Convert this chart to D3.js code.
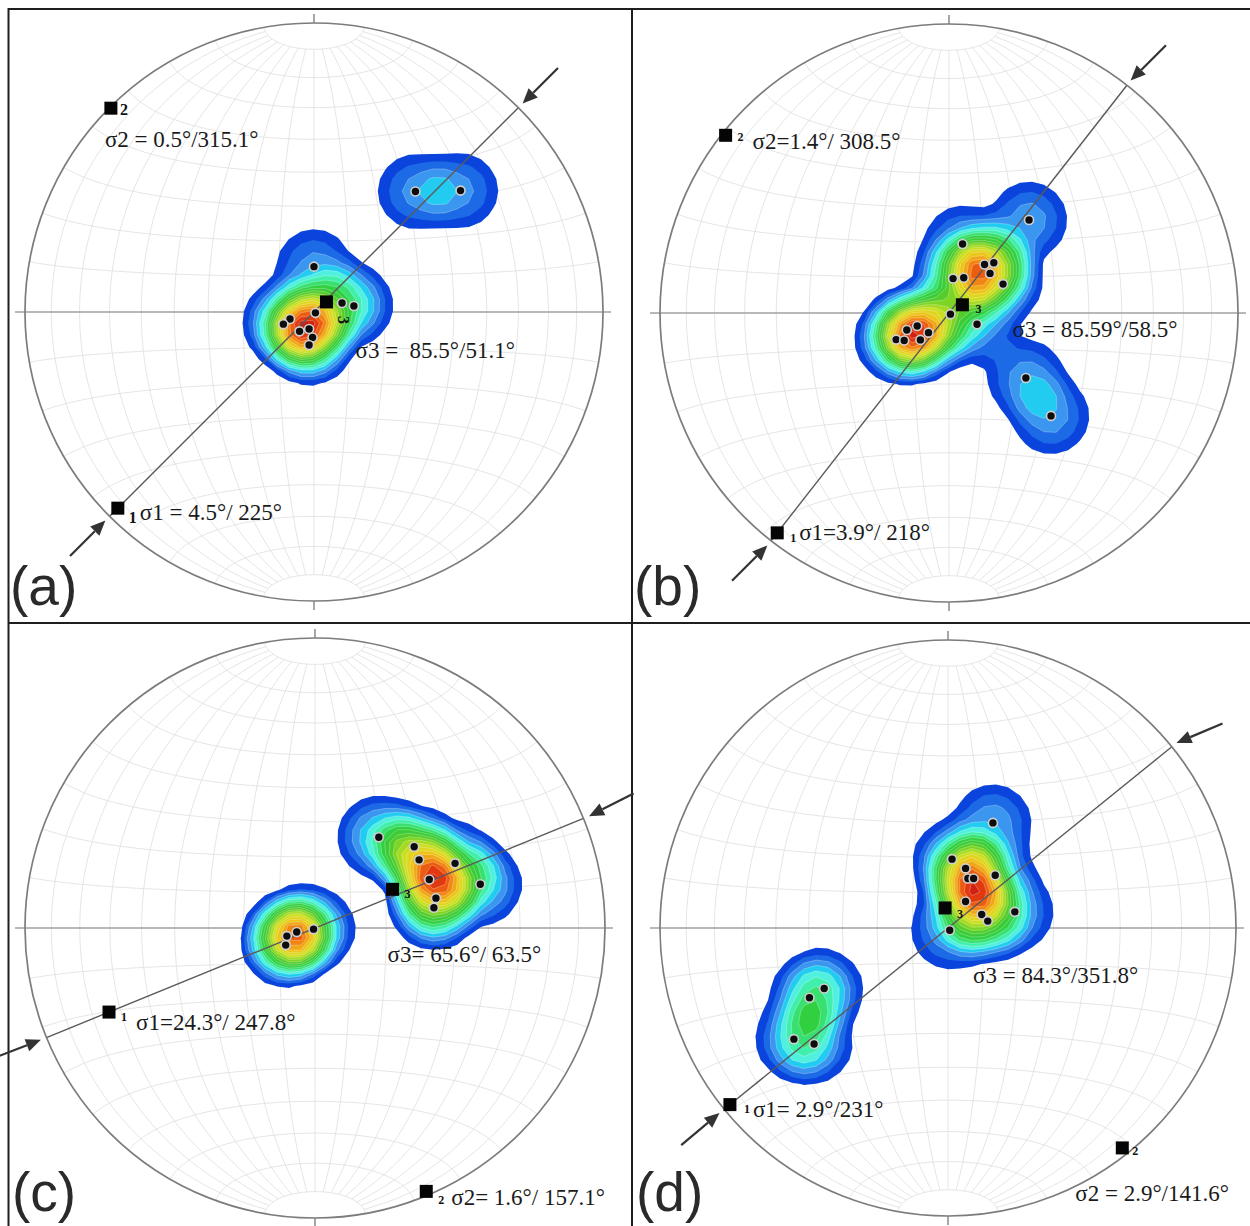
<!DOCTYPE html>
<html>
<head>
<meta charset="utf-8">
<script src="https://cdn.jsdelivr.net/npm/d3@7"></script>
<style>
  html, body { margin: 0; padding: 0; background: #fff; }
  svg { display: block; }
  .lbl { font-family: "Liberation Serif", "Times New Roman", serif; font-size: 23px; fill: #1a1a1a; white-space: pre; }
  .num { font-family: "Liberation Serif", "Times New Roman", serif; font-weight: bold; fill: #111; }
  .tag { font-family: "Liberation Sans", Arial, sans-serif; font-size: 55px; fill: #2a2a2a; }
</style>
</head>
<body>
<svg id="chart" width="1250" height="1226"></svg>
<script>
// ---------------- data ----------------
const panelTags = ["(a)", "(b)", "(c)", "(d)"];

// principal stress axes (plunge°, trend°), lower hemisphere
const s1Plunge = [4.5, 3.9, 24.3, 2.9];
const s1Trend  = [225, 218, 247.8, 231];
const s2Plunge = [0.5, 1.4, 1.6, 2.9];
const s2Trend  = [315.1, 308.5, 157.1, 141.6];
const s3Plunge = [85.5, 85.59, 65.6, 84.3];
const s3Trend  = [51.1, 58.5, 63.5, 351.8];

const s1Labels = ["σ1 = 4.5°/ 225°", "σ1=3.9°/ 218°", "σ1=24.3°/ 247.8°", "σ1= 2.9°/231°"];
const s2Labels = ["σ2 = 0.5°/315.1°", "σ2=1.4°/ 308.5°", "σ2= 1.6°/ 157.1°", "σ2 = 2.9°/141.6°"];
const s3Labels = ["σ3 =  85.5°/51.1°", "σ3 = 85.59°/58.5°", "σ3= 65.6°/ 63.5°", "σ3 = 84.3°/351.8°"];

// measured poles, net coordinates [east, north] (primitive radius = 1)
const polesA = [
  [0.351, 0.417], [0.507, 0.420], [0.000, 0.157], [0.097, 0.031], [0.138, 0.021],
  [0.005, -0.003], [-0.083, -0.024], [-0.106, -0.042], [-0.050, -0.067],
  [-0.017, -0.059], [-0.005, -0.088], [-0.017, -0.114]
];
const polesB = [
  [0.277, 0.322], [0.047, 0.239], [0.123, 0.168], [0.155, 0.174], [0.142, 0.137],
  [0.014, 0.119], [0.051, 0.122], [0.187, 0.100], [0.005, -0.004], [0.097, -0.039],
  [-0.146, -0.059], [-0.110, -0.045], [-0.183, -0.092], [-0.155, -0.095],
  [-0.099, -0.093], [-0.071, -0.068], [0.266, -0.225], [0.353, -0.356]
];
const polesC = [
  [0.220, 0.313], [0.342, 0.280], [0.359, 0.235], [0.483, 0.223], [0.394, 0.167],
  [0.570, 0.151], [0.417, 0.103], [0.410, 0.070],
  [-0.005, -0.004], [-0.063, -0.014], [-0.097, -0.028], [-0.101, -0.059]
];
const polesD = [
  [0.156, 0.365], [0.014, 0.239], [0.061, 0.207], [0.069, 0.172], [0.089, 0.172],
  [0.164, 0.183], [0.061, 0.092], [0.232, 0.056], [0.117, 0.047], [0.138, 0.024],
  [0.006, -0.008],
  [-0.430, -0.210], [-0.481, -0.242], [-0.535, -0.386], [-0.465, -0.403]
];
const poles = [polesA, polesB, polesC, polesD];

// ---------------- layout ----------------
const frames = [
  { cx: 314, cy: 312, R: 289 },
  { cx: 949, cy: 313, R: 289 },
  { cx: 315, cy: 928, R: 290 },
  { cx: 948, cy: 928, R: 288 }
];
const tagPos = [[10, 605], [634, 605], [12, 1211], [636, 1211]];
// label offsets from each axis marker
const s1Off = [[22, 12], [22, 7], [27, 18], [23, 12]];
const s2Off = [[-6, 39], [27, 14], [25, 14], [-47, 53]];
const s3Off = [[29, 56], [50, 32], [-5, 73], [28, 75]];
// axis numeral offsets ("1", "2", "3") and sizes
const n1Off = [[11, 15], [13, 9], [12, 9], [14, 8]];
const n2Off = [[9, 7], [12, 6], [12, 13], [10, 7]];
const n3Off = [[12, 14], [13, 8], [12, 9], [12, 10]];
const numSize = [16, 12, 12, 12];
// direction (bearing) in which each compression arrow's tail lies
const arrowBearing = [[225, 45], [225, 45], [249, 63], [230, 67]];

const svg = d3.select("#chart");

// jet-like palette for density bands (blue edge, green middle, red core)
const jetStops = [0, 0.053, 0.105, 0.158, 0.21, 0.26, 0.316, 0.37, 0.45, 0.55, 0.65, 0.75, 0.85, 0.93, 1];
const jetCols = ["#0a44dc", "#1c6ae6", "#3a96ee", "#22ccf0", "#50f0e0", "#40f0b0", "#38e070",
                 "#30d040", "#40c830", "#90d820", "#d8e020", "#f0c018", "#f08010", "#e84010", "#d02010"];
const jet = d3.scaleLinear().domain(jetStops).range(jetCols).interpolate(d3.interpolateRgb);

// equal-area projection of a line (plunge, trend) into net coordinates
function netXY(plunge, trend) {
  const rho = Math.SQRT2 * Math.sin((90 - plunge) / 2 * Math.PI / 180);
  const t = trend * Math.PI / 180;
  return [rho * Math.sin(t), rho * Math.cos(t)];
}

// ---------------- panel frame lines ----------------
const frameG = svg.append("g").attr("stroke", "#1e1e1e").attr("stroke-width", 2);
frameG.append("line").attr("x1", 8).attr("x2", 1250).attr("y1", 9).attr("y2", 9);
frameG.append("line").attr("x1", 8.5).attr("x2", 8.5).attr("y1", 8).attr("y2", 1226);
frameG.append("line").attr("x1", 632).attr("x2", 632).attr("y1", 8).attr("y2", 1226);
frameG.append("line").attr("x1", 8).attr("x2", 1250).attr("y1", 623).attr("y2", 623);

const defs = svg.append("defs");

frames.forEach((f, pi) => {
  const g = svg.append("g");
  const xs = d3.scaleLinear().domain([-1, 1]).range([f.cx - f.R, f.cx + f.R]);
  const ys = d3.scaleLinear().domain([-1, 1]).range([f.cy + f.R, f.cy - f.R]);

  const clipId = "clip" + pi;
  defs.append("clipPath").attr("id", clipId)
    .append("circle").attr("cx", f.cx).attr("cy", f.cy).attr("r", f.R);

  // Schmidt net graticule
  const proj = d3.geoAzimuthalEqualArea().rotate([0, 0])
    .scale(f.R / Math.SQRT2).translate([f.cx, f.cy]).precision(0.2);
  const gp = d3.geoPath(proj);
  const meridians = d3.range(-80, 81, 10).map(lon => ({
    type: "LineString", coordinates: d3.range(-80, 80.01, 2).map(lat => [lon, lat])
  }));
  const parallels = d3.range(-80, 81, 10).filter(l => l !== 0).map(lat => ({
    type: "LineString", coordinates: d3.range(-90, 90.01, 2).map(lon => [lon, lat])
  }));
  const grid = g.append("g").attr("clip-path", `url(#${clipId})`)
    .attr("fill", "none").attr("stroke", "#dedede").attr("stroke-width", 0.8);
  grid.selectAll("path.m").data(meridians).join("path").attr("class", "m").attr("d", gp);
  grid.selectAll("path.p").data(parallels).join("path").attr("class", "p").attr("d", gp);

  // E–W diameter with ticks, N/S ticks
  g.append("line").attr("x1", f.cx - f.R - 10).attr("x2", f.cx + f.R + 8)
    .attr("y1", f.cy).attr("y2", f.cy).attr("stroke", "#a0a0a0").attr("stroke-width", 1.6);
  g.append("line").attr("x1", f.cx).attr("x2", f.cx).attr("y1", f.cy - f.R - 9).attr("y2", f.cy - f.R)
    .attr("stroke", "#8a8a8a").attr("stroke-width", 1.5);
  g.append("line").attr("x1", f.cx).attr("x2", f.cx).attr("y1", f.cy + f.R).attr("y2", f.cy + f.R + 9)
    .attr("stroke", "#8a8a8a").attr("stroke-width", 1.5);

  // pole density: biweight kernel on a coarse grid, contoured in equal steps
  const pts = poles[pi].map(d => [xs(d[0]), ys(d[1])]);
  const cell = 12, h = 55;
  const x0 = f.cx - f.R, y0 = f.cy - f.R;
  const n = Math.ceil(2 * f.R / cell) + 1, m = n;
  const vals = new Array(n * m);
  for (let j = 0; j < m; j++) {
    for (let i = 0; i < n; i++) {
      const px = x0 + i * cell, py = y0 + j * cell;
      let s = 0;
      for (const p of pts) {
        const dx = px - p[0], dy = py - p[1];
        const u = (dx * dx + dy * dy) / (h * h);
        if (u < 1) s += (1 - u) * (1 - u);
      }
      vals[i + j * n] = s;
    }
  }
  const maxV = d3.max(vals);
  const N = 20;
  const thr = d3.range(1, N + 1).map(k => maxV * k / (N + 0.5));
  const cs = d3.contours().size([n, m]).thresholds(thr)(vals);
  const cpath = d3.geoPath(d3.geoIdentity().scale(cell).translate([x0 - cell * 0.5, y0 - cell * 0.5]));
  g.append("g").attr("clip-path", `url(#${clipId})`)
    .selectAll("path").data(cs).join("path")
    .attr("d", cpath)
    .attr("fill", (d, i) => jet(i / (N - 1)))
    .attr("stroke", (d, i) => i < 2 ? "none" : "rgba(255,255,255,0.45)")
    .attr("stroke-width", 0.6);

  // sigma-1 trend line across the net
  const a1 = netXY(0, s1Trend[pi]), a2 = netXY(0, s1Trend[pi] + 180);
  g.append("line").attr("x1", xs(a1[0])).attr("y1", ys(a1[1]))
    .attr("x2", xs(a2[0])).attr("y2", ys(a2[1]))
    .attr("stroke", "#5a5a5a").attr("stroke-width", 1.4);

  // primitive circle
  g.append("circle").attr("cx", f.cx).attr("cy", f.cy).attr("r", f.R)
    .attr("fill", "none").attr("stroke", "#7c7c7c").attr("stroke-width", 1.7);

  // poles
  g.append("g").selectAll("circle").data(poles[pi]).join("circle")
    .attr("cx", d => xs(d[0])).attr("cy", d => ys(d[1])).attr("r", 4.5)
    .attr("fill", "#0d0d0d").attr("stroke", "#d0d0d0").attr("stroke-width", 1.6);

  // principal axes
  const axes = [
    { p: s1Plunge[pi], t: s1Trend[pi], txt: s1Labels[pi], off: s1Off[pi], num: "1", noff: n1Off[pi] },
    { p: s2Plunge[pi], t: s2Trend[pi], txt: s2Labels[pi], off: s2Off[pi], num: "2", noff: n2Off[pi] },
    { p: s3Plunge[pi], t: s3Trend[pi], txt: s3Labels[pi], off: s3Off[pi], num: "3", noff: n3Off[pi] }
  ];
  axes.forEach(a => {
    const q = netXY(a.p, a.t);
    const px = xs(q[0]), py = ys(q[1]);
    g.append("rect").attr("x", px - 6.5).attr("y", py - 6.5).attr("width", 13).attr("height", 13)
      .attr("fill", "#050505");
    const nt = g.append("text").attr("class", "num").style("font-size", numSize[pi] + "px")
      .attr("x", px + a.noff[0]).attr("y", py + a.noff[1]).text(a.num);
    if (pi === 0 && a.num === "3") {
      nt.attr("transform", `rotate(90 ${px + a.noff[0]} ${py + a.noff[1]})`);
    }
    g.append("text").attr("class", "lbl")
      .attr("x", px + a.off[0]).attr("y", py + a.off[1]).text(a.txt);
  });

  // compression arrows at both ends of the sigma-1 line
  [s1Trend[pi], s1Trend[pi] + 180].forEach((tr, k) => {
    const e = netXY(0, tr);
    const ex = xs(e[0]), ey = ys(e[1]);
    const ux = Math.sin(tr * Math.PI / 180), uy = -Math.cos(tr * Math.PI / 180);
    const tipX = ex + ux * 6, tipY = ey + uy * 6;
    const b = arrowBearing[pi][k] * Math.PI / 180;
    const bx = Math.sin(b), by = -Math.cos(b);
    const L = 50, hl = 15, hw = 6.5;
    const tailX = tipX + bx * L, tailY = tipY + by * L;
    const baseX = tipX + bx * hl, baseY = tipY + by * hl;
    g.append("line").attr("x1", tailX).attr("y1", tailY).attr("x2", baseX).attr("y2", baseY)
      .attr("stroke", "#333").attr("stroke-width", 2.2);
    const px = -by, py = bx;
    g.append("path")
      .attr("d", `M${tipX},${tipY}L${baseX + px * hw},${baseY + py * hw}L${baseX - px * hw},${baseY - py * hw}Z`)
      .attr("fill", "#333");
  });

  // panel tag
  svg.append("text").attr("class", "tag").attr("x", tagPos[pi][0]).attr("y", tagPos[pi][1])
    .text(panelTags[pi]);
});
</script>
</body>
</html>
